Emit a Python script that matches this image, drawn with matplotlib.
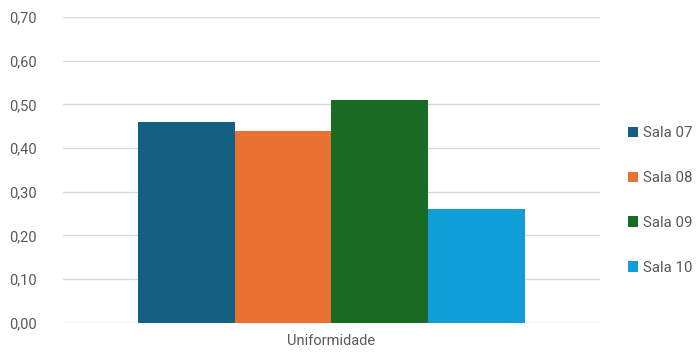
import matplotlib.pyplot as plt
import numpy as np

plt.rcParams['font.family'] = ['Roboto', 'DejaVu Sans']

# dados
categorias = ['Uniformidade']
salas = ['Sala 07', 'Sala 08', 'Sala 09', 'Sala 10']
valores = [0.46, 0.44, 0.51, 0.26]
cores = ['#156082', '#E97132', '#196B24', '#0F9ED5']

fig = plt.figure(figsize=(7, 3.6), dpi=100)
ax = fig.add_axes([0.09, 0.103, 0.767, 0.85])

largura = 0.2
x = np.arange(len(categorias))
for i, (sala, v, c) in enumerate(zip(salas, valores, cores)):
    ax.bar(x + (i - 1.5) * largura, [v], width=largura, color=c, label=sala, zorder=3)

ax.set_xlim(-0.555, 0.555)
ax.set_ylim(0, 0.70)
ax.set_yticks(np.arange(0, 0.71, 0.1))
ax.set_yticklabels([f'{t:.2f}'.replace('.', ',') for t in np.arange(0, 0.71, 0.1)])
ax.set_xticks(x)
ax.set_xticklabels(categorias)

ax.grid(axis='y', color='#D9D9D9', linewidth=1, zorder=0)
for s in ax.spines.values():
    s.set_visible(False)
ax.tick_params(axis='both', length=0, colors='#595959', labelsize=10.5)
ax.tick_params(axis='y', pad=19)
ax.tick_params(axis='x', pad=8)

ax.legend(loc='center left', bbox_to_anchor=(1.027, 0.40), frameon=False,
          handlelength=0.7, handleheight=0.7, handletextpad=0.3,
          labelspacing=2.05, fontsize=10.8, labelcolor='#595959')

fig.savefig('out.png', dpi=100)
